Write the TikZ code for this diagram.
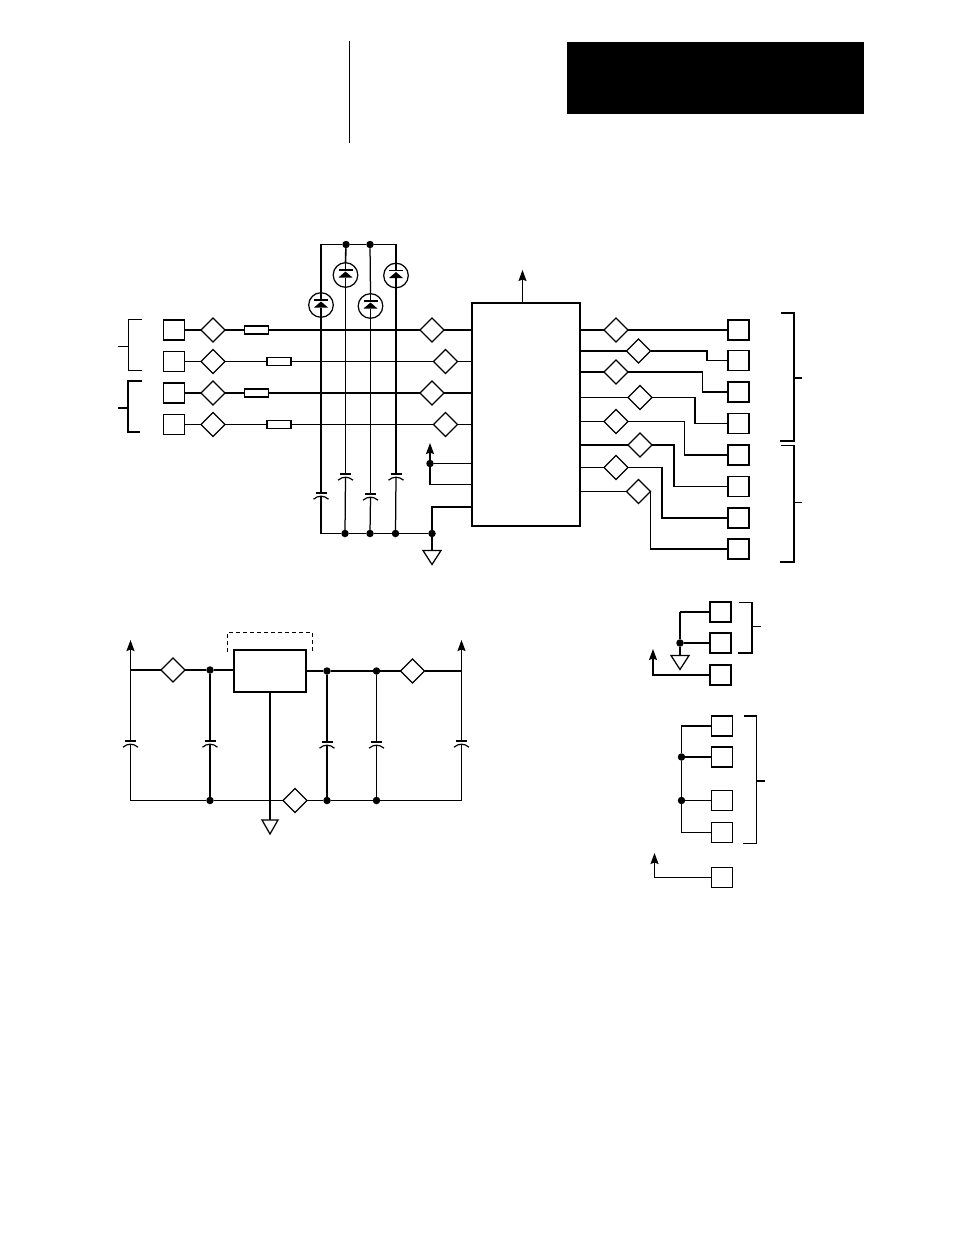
\documentclass[tikz,border=0pt]{standalone}
\usetikzlibrary{shapes.geometric,arrows.meta}
\tikzset{
    wire/.style={line width=1.25pt},
    hvy/.style={line width=1.6pt},
    upline/.style={line width=1.3pt, -{Stealth[length=11pt,width=8pt,inset=1.5pt]}},
    pinbox/.style={draw, line width=1.4pt, rectangle, minimum width=21pt, minimum height=20pt, inner sep=0pt, outer sep=0pt},
    resbox/.style={draw, line width=1.2pt, rectangle, minimum width=24pt, minimum height=8pt, inner sep=0pt, outer sep=0pt},
    swdia/.style={draw, line width=1.25pt, diamond, minimum width=24pt, minimum height=24pt, inner sep=0pt, outer sep=0pt},
    jdot/.style={circle, fill=black, minimum size=7.5pt, inner sep=0pt, outer sep=0pt},
    capsym/.style={rectangle, minimum width=17pt, minimum height=8pt, inner sep=0pt, outer sep=0pt, path picture={
        \draw[line width=1.4pt, shift={(path picture bounding box.center)}] (-5.5,-3) -- (5.5,-3);
        \draw[line width=1.2pt, shift={(path picture bounding box.center)}] (-7.5,3.2) .. controls (-3,-0.8) and (3,-0.8) .. (7.5,3.2);
    }},
    tvsdiode/.style={draw, line width=1.25pt, circle, minimum size=24.6pt, inner sep=0pt, outer sep=0pt, path picture={
        \draw[line width=1.25pt, shift={(path picture bounding box.center)}] (0,-13) -- (0,-5);
        \draw[line width=1.25pt, shift={(path picture bounding box.center)}] (-7,-5) -- (7,-5);
        \fill[shift={(path picture bounding box.center)}] (0,-3.5) -- (7,2.5) -- (-7,2.5) -- cycle;
        \draw[line width=1.25pt, shift={(path picture bounding box.center)}] (0,2.5) -- (0,13);
    }},
    gndbox/.style={rectangle, minimum width=#1pt, minimum height=14pt, inner sep=0pt, outer sep=0pt},
}
\newcommand{\gndmark}[1]{\draw[line width=1.25pt] (#1.north west) -- (#1.north east) -- (#1.south) -- cycle;}
\begin{document}
\begin{tikzpicture}[x=1pt, y=-1pt]
    \useasboundingbox (0,0) rectangle (954,1235);

    % page header
    \node[fill=black, minimum width=297pt, minimum height=72pt, inner sep=0pt] (header) at (715.5,78) {};
    \coordinate (ruletop) at (349.5,41);
    \coordinate (rulebot) at (349.5,143);
    \draw[wire] (ruletop) -- (rulebot);

    % main block
    \node[draw, line width=1.5pt, rectangle, minimum width=108pt, minimum height=223pt, inner sep=0pt, outer sep=0pt] (main) at (526,414.5) {};
    \coordinate (uptip) at (522.5,270);
    \draw[upline] (main.north -| uptip) -- (uptip);

    % inputs
    \node[pinbox] (pinl1) at (174,330) {};
    \node[pinbox] (pinl2) at (174,361.5) {};
    \node[pinbox] (pinl3) at (174,393) {};
    \node[pinbox] (pinl4) at (174,424.5) {};
    \node[swdia] (dial1) at (213,330) {};
    \node[swdia] (dial2) at (213,361.5) {};
    \node[swdia] (dial3) at (213,393) {};
    \node[swdia] (dial4) at (213,424.5) {};
    \node[resbox] (resl1) at (256.5,330) {};
    \node[resbox] (resl2) at (279,361.5) {};
    \node[resbox] (resl3) at (256.5,393) {};
    \node[resbox] (resl4) at (279,424.5) {};
    \node[swdia] (diam1) at (432,330) {};
    \node[swdia] (diam2) at (445.5,361.5) {};
    \node[swdia] (diam3) at (432,393) {};
    \node[swdia] (diam4) at (445.5,424.5) {};

    % protection diodes and caps
    \node[jdot] (dtop1) at (346,244.5) {};
    \node[jdot] (dtop2) at (370,244.5) {};
    \coordinate (topl) at (321,244.5);
    \coordinate (topr) at (396,244.5);
    \node[tvsdiode] (tvs1) at (321,305) {};
    \node[tvsdiode] (tvs2) at (345.5,275) {};
    \node[tvsdiode] (tvs3) at (370.5,306) {};
    \node[tvsdiode] (tvs4) at (396,275.5) {};
    \node[capsym] (cap1) at (321,496) {};
    \node[capsym] (cap2) at (345.5,477) {};
    \node[capsym] (cap3) at (370.5,497) {};
    \node[capsym] (cap4) at (396,477) {};
    \coordinate (botl) at (321,533.5);
    \node[jdot] (dbot1) at (345,533.5) {};
    \node[jdot] (dbot2) at (370,533.5) {};
    \node[jdot] (dbot3) at (395.5,533.5) {};
    \node[jdot] (dbot4) at (432,533.5) {};
    \node[gndbox=18] (gnd1) at (432,557.5) {};
    \gndmark{gnd1}

    \draw[hvy] (tvs1.north) -- (topl) -- (dtop1) -- (dtop2);
    \draw[wire] (dtop2) -- (topr) -- (tvs4.north);
    \draw[hvy] (dtop1) -- (tvs2.north);
    \draw[wire] (dtop2) -- (tvs3.north);
    \draw[wire] (tvs1.south) -- (cap1.north);
    \draw[wire] (tvs2.south) -- (cap2.north);
    \draw[wire] (tvs3.south) -- (cap3.north);
    \draw[wire] (tvs4.south) -- (cap4.north);
    \draw[wire] (cap1.center) -- (botl) -- (dbot1);
    \draw[wire] (cap2.center) -- (dbot1);
    \draw[wire] (cap3.center) -- (dbot2);
    \draw[wire] (cap4.center) -- (dbot3);
    \draw[hvy] (dbot1) -- (dbot2) -- (dbot3) -- (dbot4);
    \draw[wire] (dbot4) -- (gnd1.north);

    \draw[hvy] (pinl1) -- (dial1) -- (resl1) -- (diam1) -- (main.west |- diam1);
    \draw[wire] (pinl2) -- (dial2) -- (resl2) -- (diam2) -- (main.west |- diam2);
    \draw[hvy] (pinl3) -- (dial3) -- (resl3) -- (diam3) -- (main.west |- diam3);
    \draw[wire] (pinl4) -- (dial4) -- (resl4) -- (diam4) -- (main.west |- diam4);

    % supply and ground on the block
    \node[jdot] (dsup) at (430,463.5) {};
    \coordinate (suptip) at (430,443);
    \coordinate (supbend) at (430,484.5);
    \coordinate (gndbend) at (432,507);
    \draw[wire] (main.west |- dsup) -- (dsup);
    \draw[wire] (main.west |- supbend) -- (supbend) -- (dsup);
    \draw[upline] (dsup) -- (suptip);
    \draw[wire] (main.west |- gndbend) -- (gndbend) -- (dbot4);

    % input brackets
    \coordinate (bla) at (142,319);
    \coordinate (blb) at (128,319);
    \coordinate (blc) at (128,370);
    \coordinate (bld) at (142,370);
    \coordinate (ble) at (128,346.5);
    \coordinate (blf) at (118,346.5);
    \draw[line width=1pt] (bla) -- (blb) -- (blc) -- (bld);
    \draw[line width=1pt] (ble) -- (blf);
    \coordinate (bma) at (142,381);
    \coordinate (bmb) at (128,381);
    \coordinate (bmc) at (128,432);
    \coordinate (bmd) at (140,432);
    \coordinate (bme) at (128,408);
    \coordinate (bmf) at (118,408);
    \draw[hvy] (bma) -- (bmb) -- (bmc) -- (bmd);
    \draw[hvy] (bme) -- (bmf);

    % outputs
    \node[pinbox] (pinq1) at (738.5,330) {};
    \node[pinbox] (pinq2) at (738.5,360.5) {};
    \node[pinbox] (pinq3) at (738.5,392) {};
    \node[pinbox] (pinq4) at (738.5,423.5) {};
    \node[pinbox] (pinq5) at (738.5,455) {};
    \node[pinbox] (pinq6) at (738.5,486.5) {};
    \node[pinbox] (pinq7) at (738.5,518) {};
    \node[pinbox] (pinq8) at (738.5,549) {};
    \node[swdia] (diaq1) at (616,330) {};
    \node[swdia] (diaq2) at (638.5,351) {};
    \node[swdia] (diaq3) at (616,372) {};
    \node[swdia] (diaq4) at (640,397.5) {};
    \node[swdia] (diaq5) at (616,421.5) {};
    \node[swdia] (diaq6) at (640,445) {};
    \node[swdia] (diaq7) at (616,467.5) {};
    \node[swdia] (diaq8) at (638.5,491.5) {};
    \coordinate (bendq2) at (707,351);
    \coordinate (bendq3) at (702.5,372);
    \coordinate (bendq4) at (695,397.5);
    \coordinate (bendq5) at (684.5,421.5);
    \coordinate (bendq6) at (674,445);
    \coordinate (bendq7) at (662,467.5);

    \draw[wire] (main.east |- diaq1) -- (diaq1);
    \draw[hvy] (diaq1) -- (pinq1);
    \draw[wire] (main.east |- diaq2) -- (diaq2) -- (bendq2) |- (pinq2);
    \draw[wire] (main.east |- diaq3) -- (diaq3) -- (bendq3) |- (pinq3);
    \draw[wire] (main.east |- diaq4) -- (diaq4) -- (bendq4) |- (pinq4);
    \draw[wire] (main.east |- diaq5) -- (diaq5) -- (bendq5) |- (pinq5);
    \draw[wire] (main.east |- diaq6) -- (diaq6) -- (bendq6) |- (pinq6);
    \draw[wire] (main.east |- diaq7) -- (diaq7) -- (bendq7) |- (pinq7);
    \draw[wire] (main.east |- diaq8) -- (diaq8);
    \draw[wire] (diaq8.east) |- (pinq8);

    % output brackets
    \coordinate (bra) at (781,313);
    \coordinate (brb) at (794,313);
    \coordinate (brc) at (794,441);
    \coordinate (brd) at (780,441);
    \coordinate (bre) at (794,378);
    \coordinate (brf) at (802,378);
    \draw[hvy] (bra) -- (brb) -- (brc) -- (brd);
    \draw[hvy] (bre) -- (brf);
    \coordinate (bsa) at (781,445.5);
    \coordinate (bsb) at (794,445.5);
    \coordinate (bsc) at (794,562);
    \coordinate (bsd) at (780,562);
    \coordinate (bse) at (794,502);
    \coordinate (bsf) at (802,502);
    \draw[hvy] (bsa) -- (bsb) -- (bsc) -- (bsd);
    \draw[line width=1pt] (bse) -- (bsf);

    % regulator
    \node[draw, line width=1.5pt, rectangle, minimum width=72pt, minimum height=42pt, inner sep=0pt, outer sep=0pt] (reg) at (270,671) {};
    \coordinate (dsa) at (227.5,652);
    \coordinate (dsb) at (227.5,632.5);
    \coordinate (dsc) at (312.5,632.5);
    \coordinate (dsd) at (312.5,652);
    \draw[line width=1.2pt, dash pattern=on 4pt off 3pt] (dsa) -- (dsb) -- (dsc) -- (dsd);

    \coordinate (vintip) at (130.5,640);
    \coordinate (vinjoin) at (130.5,670);
    \coordinate (vinbot) at (130.5,800.5);
    \coordinate (vouttip) at (461.5,640);
    \coordinate (voutjoin) at (461.5,671);
    \coordinate (voutbot) at (461.5,800.5);
    \node[swdia] (diav1) at (173,670) {};
    \node[jdot] (dv1) at (210,670) {};
    \node[jdot] (dv2) at (327,671) {};
    \node[jdot] (dv3) at (376.5,671) {};
    \node[swdia] (diav2) at (412.5,671) {};
    \node[capsym] (capv1) at (130.5,744) {};
    \node[capsym] (capv2) at (210,744) {};
    \node[capsym] (capv3) at (327,745) {};
    \node[capsym] (capv4) at (376.5,745) {};
    \node[capsym] (capv5) at (461.5,744) {};
    \node[jdot] (dg1) at (210,800.5) {};
    \node[jdot] (dg2) at (327,800.5) {};
    \node[jdot] (dg3) at (376.5,800.5) {};
    \node[swdia] (diav3) at (295,800.5) {};
    \node[gndbox=16] (gnd2) at (270,827) {};
    \gndmark{gnd2}

    \draw[upline] (capv1.north) -- (vintip);
    \draw[upline] (capv5.north) -- (vouttip);
    \draw[hvy] (vinjoin) -- (diav1) -- (dv1) -- (reg.west |- dv1);
    \draw[hvy] (reg.east |- dv2) -- (dv2) -- (dv3) -- (diav2);
    \draw[wire] (diav2) -- (voutjoin);
    \draw[hvy] (dv1) -- (capv2.north);
    \draw[wire] (dv2) -- (capv3.north);
    \draw[wire] (dv3) -- (capv4.north);
    \draw[wire] (capv1.center) -- (vinbot) -- (dg1) -- (diav3) -- (dg2) -- (dg3) -- (voutbot) -- (capv5.center);
    \draw[wire] (capv2.center) -- (dg1);
    \draw[wire] (capv3.center) -- (dg2);
    \draw[wire] (capv4.center) -- (dg3);
    \draw[wire] (reg.south) -- (gnd2.north);

    % connector one
    \node[pinbox] (pina1) at (720.5,612) {};
    \node[pinbox] (pina2) at (720.5,643) {};
    \node[pinbox] (pina3) at (720.5,675) {};
    \node[jdot] (da) at (680,643) {};
    \node[gndbox=18] (gnd3) at (680,662.5) {};
    \gndmark{gnd3}
    \coordinate (abend) at (680,612);
    \coordinate (atip) at (653,649);
    \draw[wire] (pina1) -- (abend);
    \draw[hvy] (abend) -- (da) -- (gnd3.north);
    \draw[hvy] (da) -- (pina2);
    \draw[upline] (pina3) -| (atip);
    \coordinate (bta) at (739,602.5);
    \coordinate (btb) at (752,602.5);
    \coordinate (btc) at (752,653);
    \coordinate (btd) at (738,653);
    \coordinate (bte) at (752,626);
    \coordinate (btf) at (761,626);
    \draw[wire] (bta) -- (btb) -- (btc) -- (btd);
    \draw[line width=1pt] (bte) -- (btf);

    % connector two
    \node[pinbox] (pinb1) at (722,726) {};
    \node[pinbox] (pinb2) at (722,757) {};
    \node[pinbox, line width=1.1pt] (pinb3) at (722,800.5) {};
    \node[pinbox] (pinb4) at (722,832.5) {};
    \node[pinbox] (pinb5) at (722,877.5) {};
    \node[jdot] (db1) at (681.5,757) {};
    \node[jdot] (db2) at (681.5,800.5) {};
    \coordinate (bbend1) at (681.5,726);
    \coordinate (bbend2) at (681.5,832.5);
    \coordinate (btip) at (654.5,853);
    \draw[wire] (pinb1) -- (bbend1) -- (db1) -- (db2) -- (bbend2);
    \draw[hvy] (db1) -- (pinb2);
    \draw[wire] (db2) -- (pinb3);
    \draw[hvy] (bbend2) -- (pinb4);
    \draw[upline, line width=1.6pt] (pinb5) -| (btip);
    \coordinate (bua) at (744,716);
    \coordinate (bub) at (756.5,716);
    \coordinate (buc) at (756.5,843.5);
    \coordinate (bud) at (743,843.5);
    \coordinate (bue) at (756.5,781);
    \coordinate (buf) at (765,781);
    \draw[wire] (bua) -- (bub) -- (buc) -- (bud);
    \draw[hvy] (bue) -- (buf);
\end{tikzpicture}
\end{document}
